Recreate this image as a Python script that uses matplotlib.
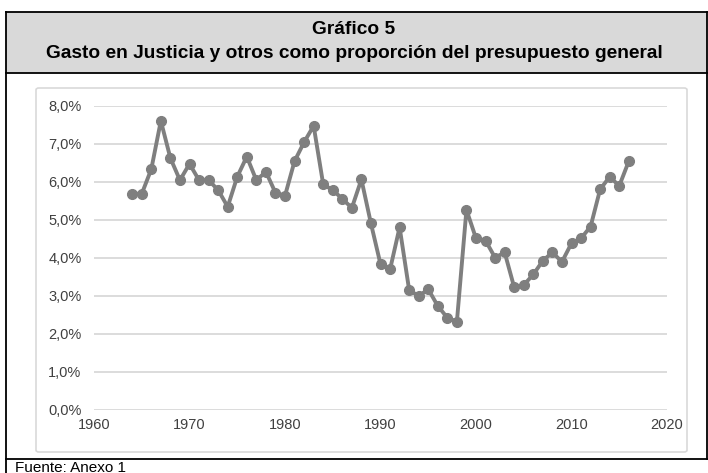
import numpy as np
import matplotlib
matplotlib.use("Agg")
import matplotlib.pyplot as plt
from matplotlib.patches import Rectangle, FancyBboxPatch
from matplotlib.lines import Line2D
from matplotlib.ticker import FuncFormatter, MultipleLocator

plt.rcParams['font.family'] = ['Liberation Sans', 'DejaVu Sans']

# Data (share of general budget, %)
years = list(range(1964, 2017))
share = [5.68, 5.68, 6.33, 7.60, 6.62, 6.04, 6.47, 6.04, 6.04, 5.78,
         5.34, 6.13, 6.66, 6.04, 6.26, 5.71, 5.63, 6.54, 7.04, 7.47,
         5.93, 5.78, 5.55, 5.31, 6.06, 4.90, 3.83, 3.69, 4.80, 3.15,
         2.99, 3.17, 2.73, 2.42, 2.32, 5.26, 4.51, 4.45, 4.00, 4.14,
         3.22, 3.28, 3.56, 3.92, 4.14, 3.89, 4.38, 4.51, 4.82, 5.80,
         6.13, 5.89, 6.54]

title_1 = "Gráfico 5"
title_2 = "Gasto en Justicia y otros como proporción del presupuesto general"
source = "Fuente: Anexo 1"

W, H = 708, 473
fig = plt.figure(figsize=(W / 100, H / 100), dpi=100)


def fx(px):
    return px / W


def fy(py):
    return 1 - py / H


# title band
fig.patches.append(Rectangle((fx(6), fy(73)), fx(707) - fx(6), fy(12) - fy(73),
                             transform=fig.transFigure, facecolor="#d9d9d9",
                             edgecolor="none", zorder=0))
# box outlines
for (x0, y0, x1, y1) in [(6, 12, 708, 12), (6, 73, 708, 73), (6, 459, 708, 459),
                         (6, 12, 6, 473), (706.5, 12, 706.5, 459)]:
    fig.lines.append(Line2D([fx(x0), fx(x1)], [fy(y0), fy(y1)],
                            transform=fig.transFigure, color="black", lw=1.3))

# inner chart frame
fig.patches.append(FancyBboxPatch((fx(36), fy(452)), fx(687) - fx(36), fy(88) - fy(452),
                                  boxstyle="round,pad=0,rounding_size=0.004",
                                  transform=fig.transFigure, facecolor="white",
                                  edgecolor="#d9d9d9", lw=1.2, zorder=0.5))

fig.text(0.5, fy(29), title_1, ha="center", va="center", fontsize=13.8, fontweight="bold")
fig.text(0.5, fy(54), title_2, ha="center", va="center", fontsize=13.8, fontweight="bold")
fig.text(fx(15), fy(460.5), source, ha="left", va="top", fontsize=11)

ax = fig.add_axes([fx(94), fy(409.7), fx(667) - fx(94), fy(105.7) - fy(409.7)])
ax.set_zorder(2)
ax.set_facecolor("none")
ax.plot(years, share, color="#7f7f7f", lw=2.8, marker="o", markersize=7,
        zorder=3, clip_on=False)

ax.set_xlim(1960, 2020)
ax.set_ylim(0, 8)
ax.xaxis.set_major_locator(MultipleLocator(10))
ax.yaxis.set_major_locator(MultipleLocator(1))
ax.yaxis.set_major_formatter(FuncFormatter(lambda v, p: f"{v:.1f}%".replace(".", ",")))
ax.grid(axis="y", color="#d9d9d9", lw=1.3)
for s in ax.spines.values():
    s.set_visible(False)
ax.tick_params(length=0, labelsize=10.5, colors="#404040", pad=6)
ax.tick_params(axis="y", pad=9)

fig.savefig("out.png", dpi=100)
